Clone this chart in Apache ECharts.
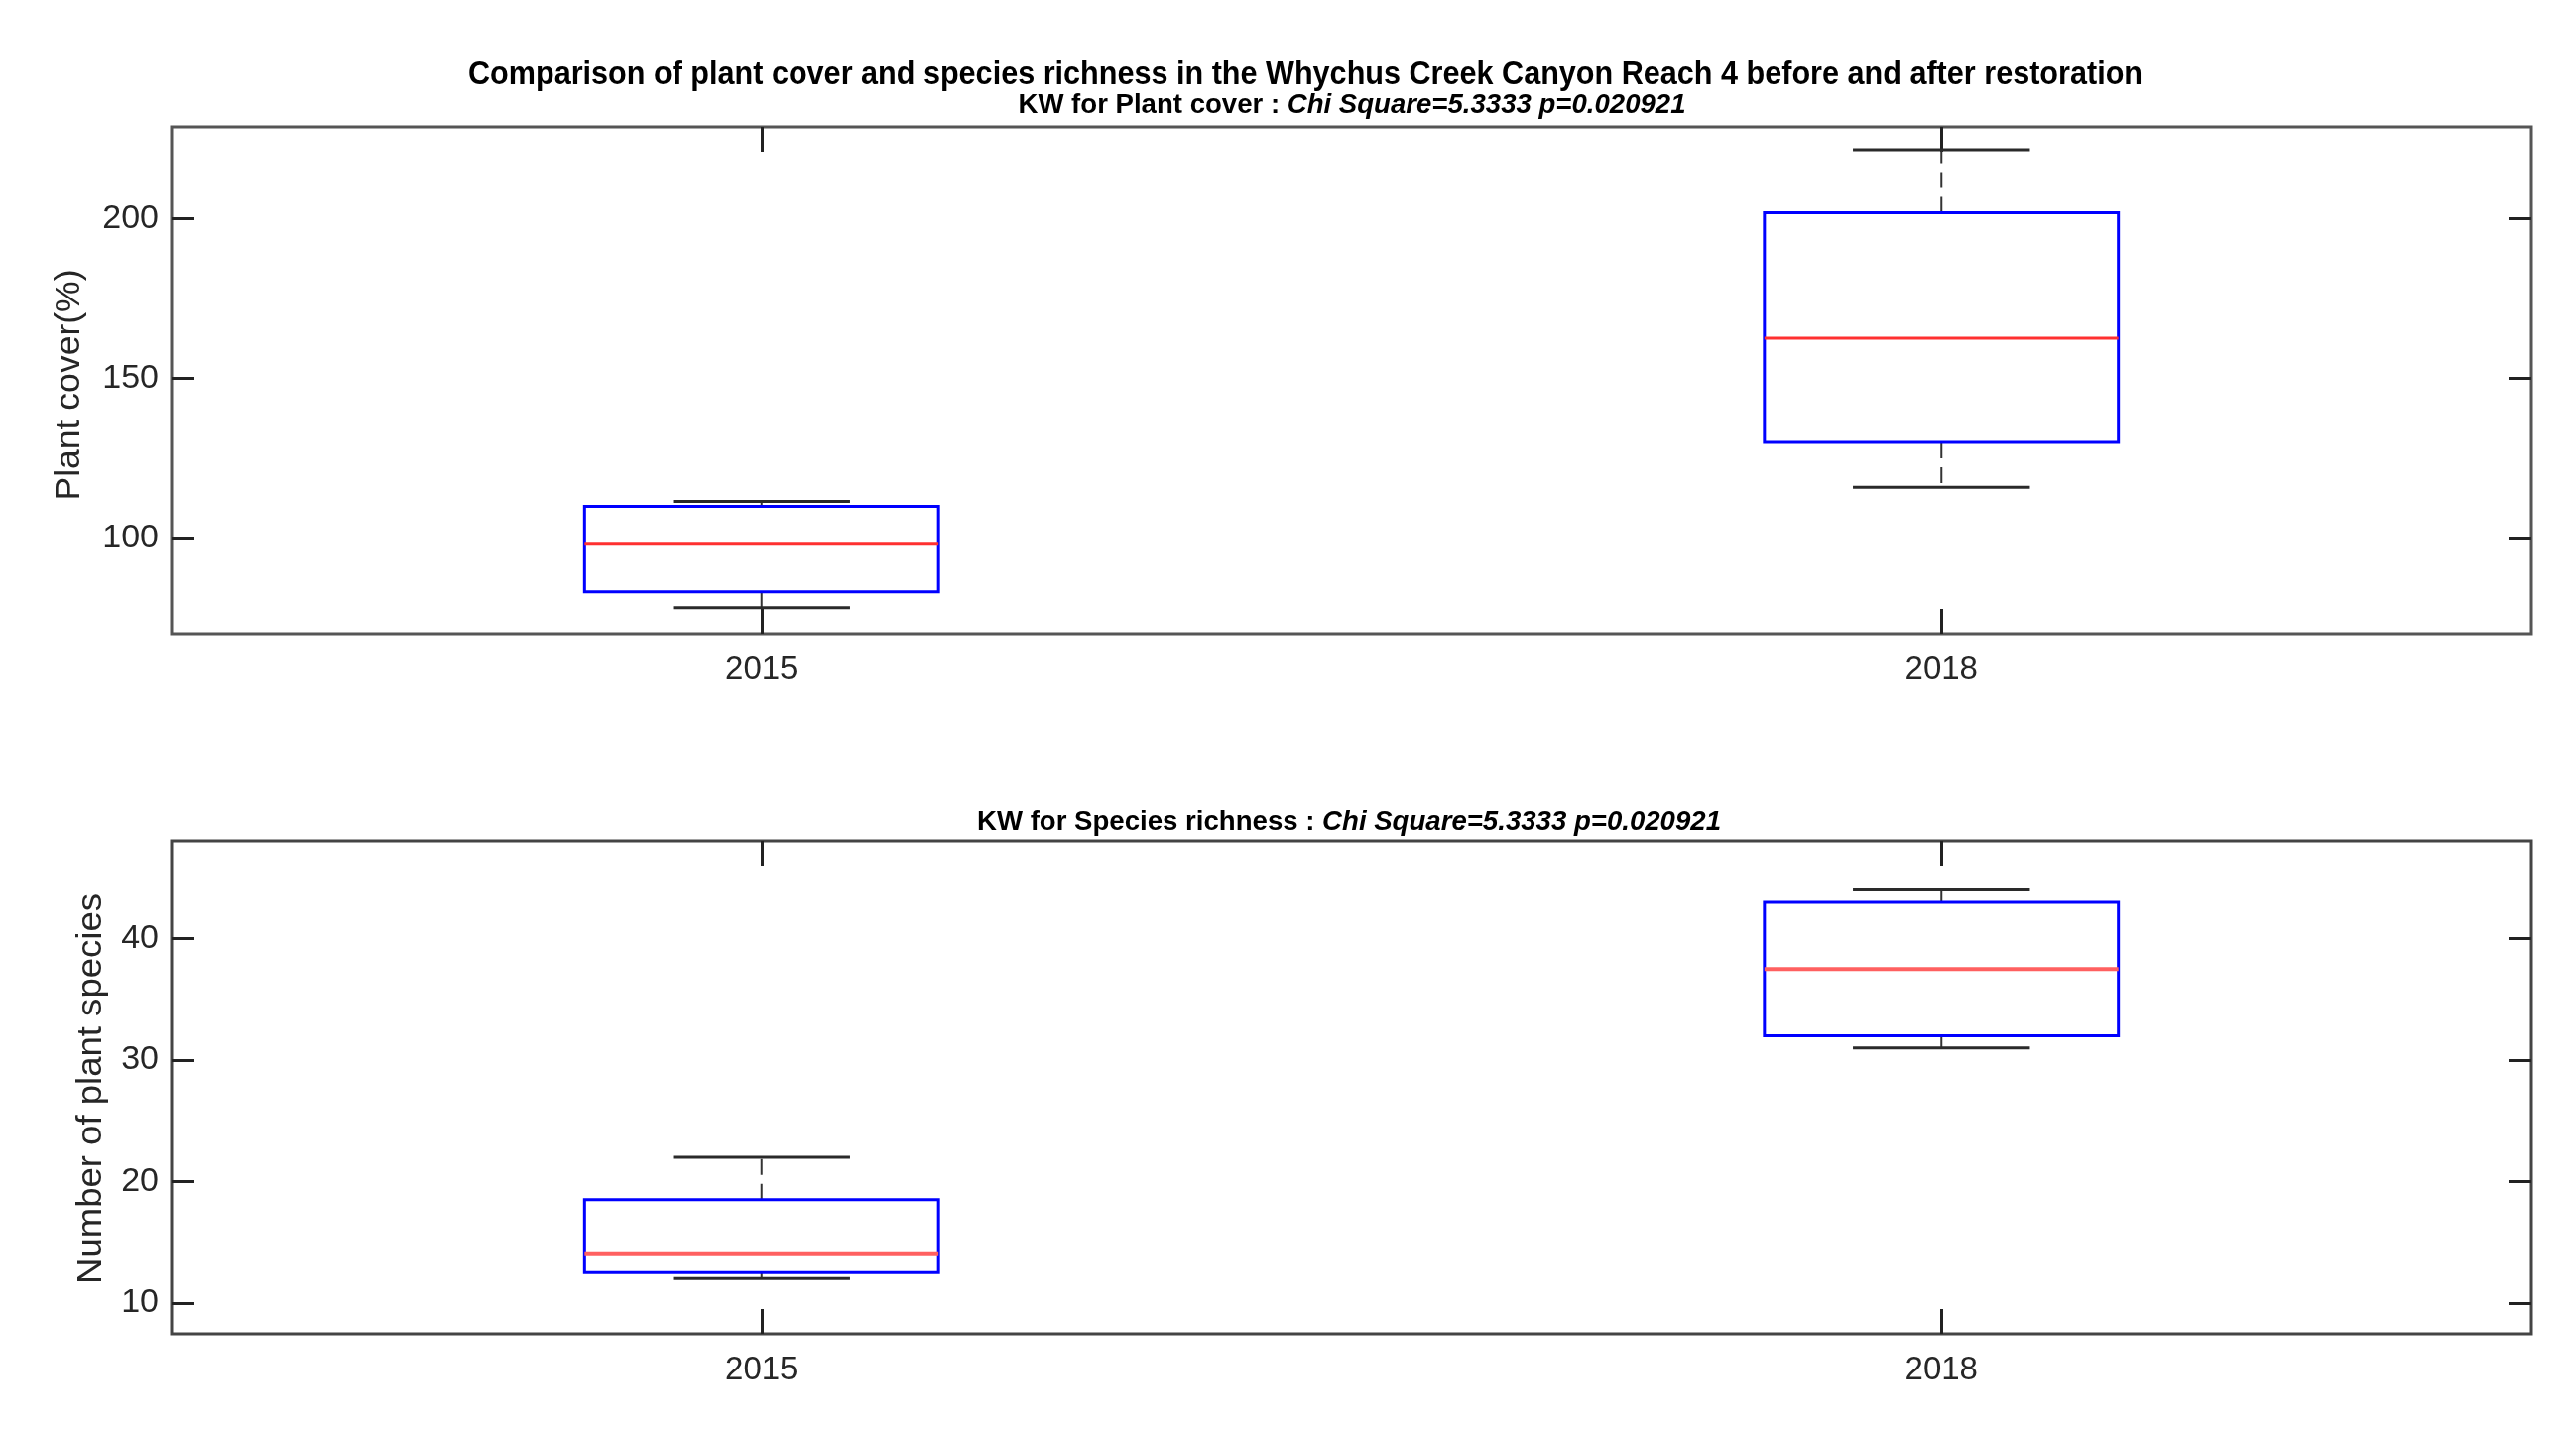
<!DOCTYPE html>
<html>
<head>
<meta charset="utf-8">
<script src="https://cdn.jsdelivr.net/npm/echarts@6/dist/echarts.min.js"></script>
<style>
html,body{margin:0;padding:0;background:#fff;}
#chart{width:2597px;height:1441px;}
</style>
</head>
<body>
<div id="chart"></div>
<script>
// ---- data ----
const categories = ['2015', '2018'];
// [lower whisker, Q1, median, Q3, upper whisker]
const coverStats = [
  [78.3, 83.3, 98.2, 110.0, 111.6],
  [116.0, 130.0, 162.6, 201.8, 221.5]
];
const richnessStats = [
  [12.0, 12.5, 14.0, 18.5, 22.0],
  [31.0, 32.0, 37.5, 43.0, 44.1]
];
const coverTicks = [100, 150, 200];
const richnessTicks = [10, 20, 30, 40];
const coverRange = [70.2, 228.6];
const richnessRange = [7.45, 48.06];

const titleText = 'Comparison of plant cover and species richness in the Whychus Creek Canyon Reach 4 before and after restoration';
const sub1Lead = 'KW for Plant cover : ';
const sub1Stat = 'Chi Square=5.3333 p=0.020921';
const sub2Lead = 'KW for Species richness : ';
const sub2Stat = 'Chi Square=5.3333 p=0.020921';
const yName1 = 'Plant cover(%)';
const yName2 = 'Number of plant species';

// ---- helpers ----
const FONT = '"Liberation Sans", Arial, Helvetica, sans-serif';
const mctx = document.createElement('canvas').getContext('2d');
function tw(font, s) { mctx.font = font; return mctx.measureText(s).width; }

function boxRender(medianWidth, medianColor) {
  return function (params, api) {
    const x = api.value(0);
    const lo = api.coord([x, api.value(1)]);
    const q1 = api.coord([x, api.value(2)]);
    const med = api.coord([x, api.value(3)]);
    const q3 = api.coord([x, api.value(4)]);
    const hi = api.coord([x, api.value(5)]);
    const band = api.size([1, 0])[0];
    const cx = lo[0];
    const bh = band * 0.15;
    const ch = band * 0.075;
    const dash = {stroke: '#333', lineWidth: 2, lineDash: [16, 9]};
    const cap = {stroke: '#2a2a2a', lineWidth: 3};
    return {
      type: 'group',
      children: [
        {type: 'line', shape: {x1: cx, y1: q3[1], x2: cx, y2: hi[1]}, style: dash},
        {type: 'line', shape: {x1: cx, y1: q1[1], x2: cx, y2: lo[1]}, style: dash},
        {type: 'line', shape: {x1: cx - ch, y1: hi[1], x2: cx + ch, y2: hi[1]}, style: cap},
        {type: 'line', shape: {x1: cx - ch, y1: lo[1], x2: cx + ch, y2: lo[1]}, style: cap},
        {type: 'rect', shape: {x: cx - bh, y: q3[1], width: 2 * bh, height: q1[1] - q3[1]},
          style: {fill: 'none', stroke: '#0000ff', lineWidth: 3}},
        {type: 'line', shape: {x1: cx - bh, y1: med[1], x2: cx + bh, y2: med[1]},
          style: {stroke: medianColor, lineWidth: medianWidth}}
      ]
    };
  };
}

function xAx(gridIndex, pos, showLabel) {
  return {
    type: 'category', gridIndex: gridIndex, position: pos, data: categories,
    boundaryGap: true,
    axisLine: {show: false},
    axisTick: {show: true, inside: true, alignWithLabel: true, length: 25,
      lineStyle: {color: '#222', width: 3}},
    axisLabel: {show: showLabel, fontSize: 33, fontFamily: FONT, color: '#262626', margin: 20},
    splitLine: {show: false}
  };
}
function yAx(gridIndex, pos, range, ticks, showLabel) {
  return {
    type: 'value', gridIndex: gridIndex, position: pos, min: range[0], max: range[1],
    axisLine: {show: false},
    splitLine: {show: false},
    axisTick: {show: true, inside: true, length: 23, customValues: ticks,
      lineStyle: {color: '#222', width: 3}},
    axisLabel: {show: showLabel, customValues: ticks, fontSize: 34, fontFamily: FONT,
      color: '#262626', margin: 13}
  };
}

function fitText(x, y, text, font, targetW, extra) {
  return Object.assign({
    type: 'text', x: x, y: y, scaleX: targetW / tw(font, text),
    style: {text: text, font: font, fill: '#000', align: 'center', verticalAlign: 'middle'}
  }, extra || {});
}
function richSub(x, y, lead, stat, size, targetW) {
  const fa = 'bold ' + size + 'px ' + FONT;
  const fb = 'italic bold ' + size + 'px ' + FONT;
  const w = tw(fa, lead) + tw(fb, stat);
  return {
    type: 'text', x: x, y: y, scaleX: targetW / w,
    style: {
      text: '{a|' + lead + '}{b|' + stat + '}',
      align: 'center', verticalAlign: 'middle',
      rich: {
        a: {fontSize: size, fontWeight: 'bold', fontFamily: FONT, fill: '#000'},
        b: {fontSize: size, fontWeight: 'bold', fontStyle: 'italic', fontFamily: FONT, fill: '#000'}
      }
    }
  };
}

const chart = echarts.init(document.getElementById('chart'), null, {renderer: 'canvas'});
const titleFont = 'bold 34px ' + FONT;
const nameFont = '35px ' + FONT;

const option = {
  backgroundColor: '#fff',
  animation: false,
  grid: [
    {left: 173, right: 45, top: 128, height: 511, show: true, borderColor: '#555', borderWidth: 3},
    {left: 173, right: 45, top: 848, height: 497, show: true, borderColor: '#444', borderWidth: 3}
  ],
  xAxis: [xAx(0, 'bottom', true), xAx(0, 'top', false), xAx(1, 'bottom', true), xAx(1, 'top', false)],
  yAxis: [
    yAx(0, 'left', coverRange, coverTicks, true), yAx(0, 'right', coverRange, coverTicks, false),
    yAx(1, 'left', richnessRange, richnessTicks, true), yAx(1, 'right', richnessRange, richnessTicks, false)
  ],
  series: [
    {type: 'custom', xAxisIndex: 0, yAxisIndex: 0, renderItem: boxRender(3, '#ff3030'),
      data: coverStats.map((s, i) => [i].concat(s)), encode: {x: 0, y: [1, 2, 3, 4, 5]}, z: 5},
    {type: 'custom', xAxisIndex: 2, yAxisIndex: 2, renderItem: boxRender(4, '#ff6060'),
      data: richnessStats.map((s, i) => [i].concat(s)), encode: {x: 0, y: [1, 2, 3, 4, 5]}, z: 5}
  ],
  graphic: [
    fitText(1316, 76, titleText, titleFont, 1688),
    richSub(1363, 107, sub1Lead, sub1Stat, 27, 673),
    richSub(1360, 830, sub2Lead, sub2Stat, 27, 750),
    fitText(70, 388, yName1, nameFont, 233, {rotation: Math.PI / 2}),
    fitText(92, 1098, yName2, nameFont, 394, {rotation: Math.PI / 2})
  ]
};
option.graphic[3].style.fill = '#262626';
option.graphic[4].style.fill = '#262626';
chart.setOption(option);
</script>
</body>
</html>
